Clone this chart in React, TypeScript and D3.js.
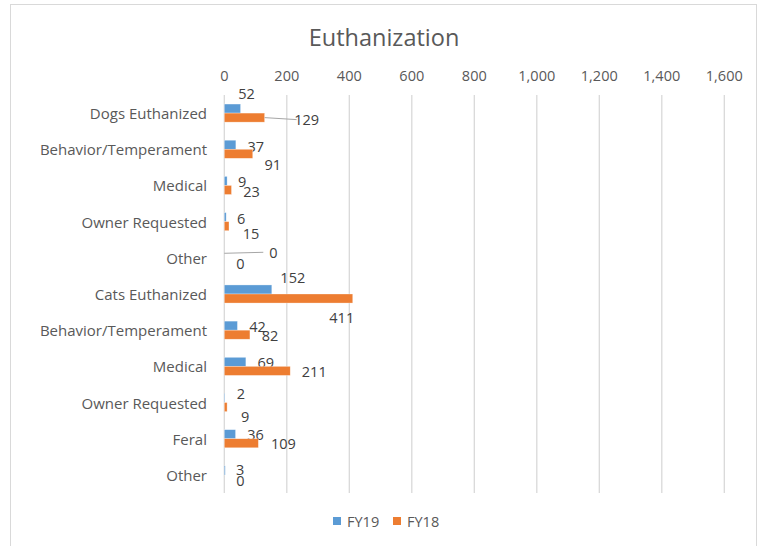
import React, { useEffect, useRef } from "react";
import * as d3 from "d3";

const categories = [
  "Dogs Euthanized",
  "Behavior/Temperament",
  "Medical",
  "Owner Requested",
  "Other",
  "Cats Euthanized",
  "Behavior/Temperament",
  "Medical",
  "Owner Requested",
  "Feral",
  "Other",
];
const fy19 = [52, 37, 9, 6, 0, 152, 42, 69, 2, 36, 3];
const fy18 = [129, 91, 23, 15, 0, 411, 82, 211, 9, 109, 0];
const xTicks = [0, 200, 400, 600, 800, 1000, 1200, 1400, 1600];
const seriesNames = ["FY19", "FY18"];

// label nudges (label centre relative to bar end / bar middle), as moved in the original
const nudge19: [number, number][] = [
  [6, -15], [20, 2], [15, 1], [15, 1], [49, -1], [21, -12], [20, 1], [20, 1], [16, -5], [20, 0], [15, -1],
];
const nudge18: [number, number][] = [
  [42, 2], [20, 11], [20, 2], [22, 7], [16, 1], [-11, 19], [20, 1], [24, 1], [18, 9], [25, 0], [16, 1],
];
// labels that got a leader line back to the bar
const leader19 = [4];
const leader18 = [0];

const BLUE = "#5B9BD5";
const ORANGE = "#ED7D31";
const FONT = "'Open Sans', 'Noto Sans', sans-serif";

export default function App() {
  const ref = useRef<SVGSVGElement>(null);

  useEffect(() => {
    const svg = d3.select(ref.current);
    svg.selectAll("*").remove();

    const W = 762, H = 546;
    const margin = { top: 95, left: 224.3, bottom: 53 };
    const plotH = H - margin.top - margin.bottom;

    svg.append("rect")
      .attr("x", 10.5).attr("y", 4.5)
      .attr("width", 746).attr("height", 600)
      .attr("fill", "#fff").attr("stroke", "#d9d9d9");

    const x = d3.scaleLinear().domain([0, 1600]).range([margin.left, margin.left + 500]);
    const idx = categories.map((_, i) => String(i));
    const y = d3.scaleBand().domain(idx).range([margin.top, margin.top + plotH]).paddingInner(0.5).paddingOuter(0.25);

    // gridlines
    svg.append("g").selectAll("line")
      .data(xTicks).join("line")
      .attr("x1", d => x(d)).attr("x2", d => x(d))
      .attr("y1", margin.top).attr("y2", margin.top + plotH)
      .attr("stroke", "#d9d9d9").attr("stroke-width", 1.3);

    // top tick labels
    svg.append("g").selectAll("text")
      .data(xTicks).join("text")
      .attr("x", d => x(d)).attr("y", 75)
      .attr("text-anchor", "middle").attr("dominant-baseline", "central")
      .attr("font-family", FONT).attr("font-size", 14.5).attr("fill", "#595959")
      .text(d => d3.format(",")(d));

    // category labels
    svg.append("g").selectAll("text")
      .data(categories).join("text")
      .attr("x", 207).attr("y", (_, i) => y(String(i))! + y.bandwidth() / 2)
      .attr("text-anchor", "end").attr("dominant-baseline", "central")
      .attr("font-family", FONT).attr("font-size", 15).attr("fill", "#595959")
      .text(d => d);

    const bh = y.bandwidth() / 2;
    const series = [
      { vals: fy19, color: BLUE, off: 0, nudge: nudge19, leader: leader19 },
      { vals: fy18, color: ORANGE, off: bh, nudge: nudge18, leader: leader18 },
    ];

    series.forEach(s => {
      svg.append("g").selectAll("rect")
        .data(s.vals).join("rect")
        .attr("x", x(0))
        .attr("y", (_, i) => y(String(i))! + s.off)
        .attr("width", d => x(d) - x(0))
        .attr("height", bh)
        .attr("fill", s.color)
        .attr("stroke", "#fff").attr("stroke-opacity", 0.5).attr("stroke-width", 0.6);

      s.leader.forEach(i => {
        const bx = x(s.vals[i]);
        const by = y(String(i))! + s.off + bh / 2;
        const [dx, dy] = s.nudge[i];
        svg.append("line")
          .attr("x1", bx).attr("y1", by)
          .attr("x2", bx + dx - 10).attr("y2", by + dy)
          .attr("stroke", "#a6a6a6").attr("stroke-width", 1);
      });

      svg.append("g").selectAll("text")
        .data(s.vals).join("text")
        .attr("x", (d, i) => x(d) + s.nudge[i][0])
        .attr("y", (_, i) => y(String(i))! + s.off + bh / 2 + s.nudge[i][1])
        .attr("text-anchor", "middle").attr("dominant-baseline", "central")
        .attr("font-family", FONT).attr("font-size", 14.5).attr("fill", "#404040")
        .text(d => d);
    });

    // title
    svg.append("text")
      .attr("x", 384).attr("y", 37)
      .attr("text-anchor", "middle").attr("dominant-baseline", "central")
      .attr("font-family", FONT).attr("font-size", 23.5).attr("fill", "#595959")
      .text("Euthanization");

    // legend
    const legend = svg.append("g");
    const lx = [333, 393];
    seriesNames.forEach((n, i) => {
      legend.append("rect")
        .attr("x", lx[i]).attr("y", 517).attr("width", 8).attr("height", 8)
        .attr("fill", i === 0 ? BLUE : ORANGE);
      legend.append("text")
        .attr("x", lx[i] + 14).attr("y", 521)
        .attr("dominant-baseline", "central")
        .attr("font-family", FONT).attr("font-size", 14.5).attr("fill", "#595959")
        .text(n);
    });
  }, []);

  return (
    <svg ref={ref} width={762} height={546}
      style={{ position: "absolute", left: 0, top: 0, display: "block" }} />
  );
}
